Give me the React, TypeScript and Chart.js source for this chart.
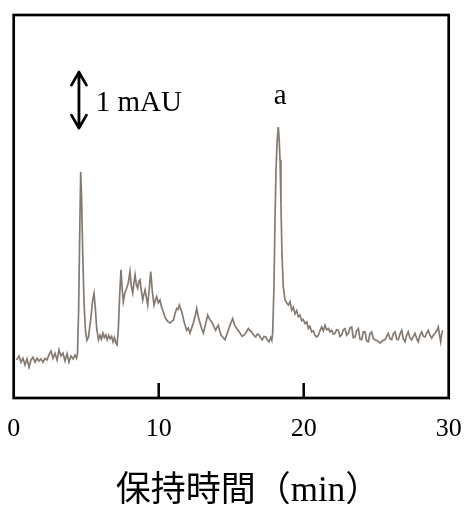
import React, { useEffect, useRef } from "react";
import { Chart, registerables } from "chart.js";

Chart.register(...registerables);

// Retention time (min)
const TIMES = [
  0.2, 0.37, 0.5, 0.64, 0.78, 0.92, 1.06, 1.19, 1.33, 1.47, 1.61, 1.74, 1.88, 2.02, 2.16, 2.3, 2.43, 2.57, 2.71, 2.85,
  2.99, 3.12, 3.26, 3.4, 3.54, 3.68, 3.81, 3.95, 4.09, 4.23, 4.33,
  4.4, 4.48, 4.55, 4.62, 4.68, 4.76, 4.85, 4.95, 5.05,
  5.15, 5.3, 5.45, 5.54, 5.63, 5.72, 5.85,
  5.95, 6.05, 6.15, 6.25, 6.35, 6.45, 6.55, 6.65, 6.75, 6.85, 6.95, 7.05, 7.13,
  7.22, 7.31, 7.4, 7.48, 7.56, 7.67, 7.79, 7.9, 8.02, 8.11, 8.21, 8.29, 8.37, 8.46, 8.55, 8.63, 8.71, 8.8, 8.9, 8.98,
  9.06, 9.15, 9.24, 9.35, 9.45, 9.56, 9.68, 9.77, 9.86, 9.97, 10.09, 10.2, 10.32, 10.43, 10.55, 10.66, 10.78, 10.9,
  11.01, 11.12, 11.24, 11.33, 11.42, 11.5, 11.59, 11.75, 11.93, 12.04, 12.16, 12.27, 12.39, 12.5, 12.62, 12.73, 12.85,
  12.96, 13.08, 13.23, 13.38, 13.52, 13.66, 13.8, 13.93, 14.02, 14.11, 14.2, 14.3, 14.44, 14.57, 14.68, 14.8, 14.95,
  15.1, 15.24, 15.38, 15.5, 15.61, 15.75, 15.9, 16.04, 16.18, 16.3, 16.41, 16.55, 16.69, 16.8, 16.92, 17.03, 17.14,
  17.26, 17.38, 17.5, 17.61, 17.72, 17.8, 17.86,
  17.95, 18.02, 18.09, 18.17, 18.25, 18.31, 18.37, 18.43, 18.5, 18.59, 18.71,
  18.83, 18.94, 19.06, 19.17, 19.28, 19.4, 19.52, 19.63, 19.74, 19.86, 19.97, 20.09, 20.21, 20.32, 20.43, 20.55, 20.66,
  20.78, 20.9, 21.01, 21.12, 21.24, 21.35, 21.47, 21.58, 21.7, 21.81, 21.93, 22.04, 22.16, 22.27, 22.39, 22.5, 22.62,
  22.73, 22.85, 22.96, 23.08, 23.19, 23.31, 23.42, 23.54, 23.65, 23.77, 23.88, 24.0, 24.11, 24.23, 24.34, 24.46, 24.57,
  24.69, 24.8, 24.92, 25.1, 25.27, 25.45, 25.61, 25.72, 25.83, 25.95, 26.07, 26.18, 26.3, 26.41, 26.52, 26.64, 26.76,
  26.87, 26.99, 27.1, 27.21, 27.33, 27.45, 27.56, 27.68, 27.79, 27.9, 28.02, 28.14, 28.25, 28.37, 28.48, 28.59, 28.71,
  28.83, 28.94, 29.06, 29.17, 29.28, 29.37, 29.45, 29.52, 29.59,
];

// Detector signal (mAU)
const SIGNAL = [
  0.68, 0.75, 0.64, 0.71, 0.59, 0.7, 0.55, 0.68, 0.73, 0.64, 0.71, 0.66, 0.7, 0.64, 0.71, 0.68, 0.77, 0.84, 0.71, 0.8,
  0.68, 0.86, 0.75, 0.8, 0.66, 0.79, 0.64, 0.75, 0.7, 0.77, 0.71,
  0.78, 1.6, 2.9, 4.04, 3.6, 2.6, 1.7, 1.2, 1.03,
  1.08, 1.38, 1.75, 1.87, 1.6, 1.25, 1.04,
  1.12, 1.05, 1.16, 1.08, 1.13, 1.04, 1.12, 1.06, 1.1, 1.0, 1.08, 0.98, 0.95,
  1.25, 1.85, 2.29, 1.95, 1.72, 1.88, 1.96, 2.05, 2.26, 2.0, 1.875, 2.05, 2.2, 2.02, 1.96, 2.08, 2.11, 1.92, 1.75, 1.85,
  1.93, 1.8, 1.66, 1.95, 2.26, 1.9, 1.66, 1.75, 1.81, 1.7, 1.75, 1.62, 1.54, 1.45, 1.39, 1.36, 1.34, 1.37,
  1.39, 1.5, 1.6, 1.58, 1.66, 1.6, 1.54, 1.36, 1.21, 1.25, 1.16, 1.25, 1.34, 1.45, 1.6, 1.45, 1.34,
  1.24, 1.16, 1.32, 1.48, 1.4, 1.36, 1.28, 1.21, 1.26, 1.3, 1.2, 1.125, 1.08, 1.04, 1.12, 1.21, 1.32,
  1.42, 1.3, 1.24, 1.2, 1.16, 1.1, 1.125, 1.18, 1.24, 1.2, 1.18, 1.12, 1.09, 1.14, 1.125, 1.07, 1.04,
  1.1, 1.09, 1.03, 1.005, 1.08, 1.03, 1.16,
  1.99, 3.18, 4.07, 4.6, 4.84, 4.6, 4.25, 3.48, 2.59, 1.99, 1.75,
  1.7, 1.66, 1.72, 1.57, 1.62, 1.5, 1.56, 1.45, 1.48, 1.38, 1.4, 1.33, 1.36, 1.24, 1.28, 1.18, 1.2,
  1.12, 1.09, 1.12, 1.2, 1.27, 1.2, 1.3, 1.22, 1.24, 1.18, 1.21, 1.14, 1.155, 1.22, 1.21, 1.1, 1.125,
  1.22, 1.24, 1.12, 1.155, 1.25, 1.27, 1.08, 1.09, 1.2, 1.24, 1.05, 1.04, 1.18, 1.18, 1.02, 1.005, 1.15,
  1.18, 1.06, 1.04, 1.02, 0.98, 1.03, 1.04, 1.1, 1.155, 1.06, 1.04, 1.15, 1.18, 1.05, 1.04, 1.14, 1.21,
  1.06, 1.005, 1.12, 1.18, 1.07, 1.04, 1.1, 1.155, 1.06, 1.005, 1.12, 1.18, 1.1, 1.09, 1.16, 1.21, 1.12,
  1.07, 1.12, 1.155, 1.2, 1.27, 1.12, 1.005, 1.15, 1.21,
];

const X_MIN = 0;
const X_MAX = 30;
const X_STEP = 10;
const Y_MIN = 0;
const Y_MAX = 6.84;

const X_TITLE = "保持時間（min）";

// Scale bar (1 mAU) and peak label
const SCALE_BAR_X = 4.5;
const SCALE_BAR_FROM = 4.82;
const SCALE_BAR_SIZE = 1;
const SCALE_BAR_LABEL = "1 mAU";
const SCALE_BAR_LABEL_X = 5.65;
const SCALE_BAR_LABEL_Y = 5.13;

const PEAK_LABELS = ["a"];
const PEAK_LABEL_X = [18.37];
const PEAK_LABEL_Y = [5.25];

const LINE_COLOR = "#857a70";

const annotatePlugin = {
  id: "annotate",
  afterDraw(chart: any) {
    const { ctx, chartArea: a, scales } = chart;
    const x = scales.x;
    const y = scales.y;
    ctx.save();
    // frame
    ctx.strokeStyle = "#000";
    ctx.lineWidth = 2.7;
    ctx.strokeRect(a.left, a.top, a.right - a.left, a.bottom - a.top);
    // inward tick marks
    ctx.lineWidth = 2.5;
    x.ticks.forEach((t: any) => {
      if (t.value > x.min && t.value < x.max) {
        const px = x.getPixelForValue(t.value);
        ctx.beginPath();
        ctx.moveTo(px, a.bottom);
        ctx.lineTo(px, a.bottom - 15);
        ctx.stroke();
      }
    });
    // double-headed scale arrow
    const ax = x.getPixelForValue(SCALE_BAR_X);
    const yTop = y.getPixelForValue(SCALE_BAR_FROM + SCALE_BAR_SIZE);
    const yBot = y.getPixelForValue(SCALE_BAR_FROM);
    ctx.lineWidth = 2.8;
    ctx.lineCap = "round";
    ctx.lineJoin = "round";
    ctx.beginPath();
    ctx.moveTo(ax, yTop);
    ctx.lineTo(ax, yBot);
    ctx.moveTo(ax - 7.5, yTop + 13);
    ctx.lineTo(ax, yTop);
    ctx.lineTo(ax + 7.5, yTop + 13);
    ctx.moveTo(ax - 7.5, yBot - 13);
    ctx.lineTo(ax, yBot);
    ctx.lineTo(ax + 7.5, yBot - 13);
    ctx.stroke();
    // labels
    ctx.fillStyle = "#000";
    ctx.textBaseline = "alphabetic";
    ctx.font = "29px 'Liberation Serif', serif";
    ctx.textAlign = "left";
    ctx.fillText(SCALE_BAR_LABEL, x.getPixelForValue(SCALE_BAR_LABEL_X), y.getPixelForValue(SCALE_BAR_LABEL_Y));
    ctx.textAlign = "center";
    PEAK_LABELS.forEach((lab, i) => {
      ctx.fillText(lab, x.getPixelForValue(PEAK_LABEL_X[i]), y.getPixelForValue(PEAK_LABEL_Y[i]));
    });
    // axis title
    ctx.font = "35px 'Liberation Serif', 'Noto Sans CJK JP', serif";
    ctx.textAlign = "left";
    ctx.fillText(X_TITLE, a.left + 102, chart.height - 5);
    ctx.restore();
  },
};

export default function App() {
  const ref = useRef<HTMLCanvasElement | null>(null);
  useEffect(() => {
    if (!ref.current) return;
    const chart = new Chart(ref.current, {
      type: "line",
      data: {
        datasets: [
          {
            data: TIMES.map((t, i) => ({ x: t, y: SIGNAL[i] })),
            borderColor: LINE_COLOR,
            borderWidth: 1.7,
            pointRadius: 0,
            tension: 0,
            fill: false,
          },
        ],
      },
      options: {
        animation: false,
        responsive: false,
        layout: { padding: { left: 13.7, right: 16.3, top: 15, bottom: 58 } },
        plugins: { legend: { display: false }, tooltip: { enabled: false } },
        scales: {
          x: {
            type: "linear",
            min: X_MIN,
            max: X_MAX,
            grid: { display: false, drawTicks: false },
            border: { display: false },
            ticks: {
              stepSize: X_STEP,
              padding: 16,
              color: "#000",
              font: { family: "'Liberation Serif', serif", size: 26 },
            },
            afterFit(scale: any) {
              scale.paddingLeft = 0;
              scale.paddingRight = 0;
              scale.height = 50;
            },
          },
          y: { display: false, min: Y_MIN, max: Y_MAX },
        },
      },
      plugins: [annotatePlugin],
    });
    return () => chart.destroy();
  }, []);
  return (
    <div style={{ position: "fixed", left: 0, top: 0, width: 465, height: 506, background: "#fff" }}>
      <canvas ref={ref} width={465} height={506} />
    </div>
  );
}
